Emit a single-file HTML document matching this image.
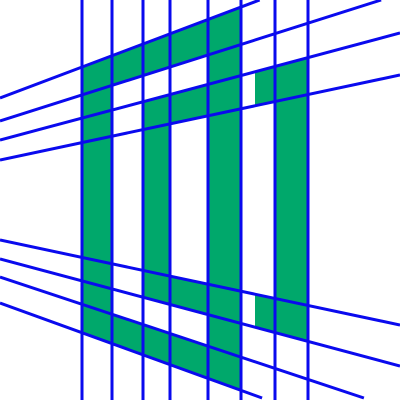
<!DOCTYPE html>
<html><head><meta charset="utf-8"><style>html,body{margin:0;padding:0;background:#fff;width:400px;height:400px;overflow:hidden}svg{display:block;overflow:hidden}</style></head>
<body>
<svg id="c" width="400" height="400" viewBox="0 0 400 400"></svg>
<script>
const verticals = [82, 112, 143, 170, 208, 241, 275, 308];
// slanted lines: [y at x=0, y at x=400]
const slanted = [[98, -53], [121, -6], [140, 33], [160, 75], [240, 325], [259, 366], [277, 410], [303, 448]];
// green pieces: [x0, x1, topLineIndex, bottomLineIndex]
const pieces = [
  [82, 112, 0, 7], [82, 241, 0, 1], [208, 241, 0, 7], [112, 241, 6, 7],
  [143, 170, 2, 5], [143, 208, 2, 3], [170, 208, 4, 5],
  [275, 308, 2, 5], [255, 275, 2, 3], [255, 275, 4, 5]
];
const svg = document.getElementById('c');
const NS = 'http://www.w3.org/2000/svg';
function yAt(i, x){ const l = slanted[i]; return l[0] + (l[1]-l[0])*x/400; }
function clampY(y){ return Math.max(0, Math.min(400, y)); }
pieces.forEach(p => {
  const pts = [[p[0], yAt(p[2],p[0])],[p[1], yAt(p[2],p[1])],[p[1], yAt(p[3],p[1])],[p[0], yAt(p[3],p[0])]];
  const g = document.createElementNS(NS, 'polygon');
  g.setAttribute('points', pts.map(q=>q[0]+','+clampY(q[1])).join(' '));
  g.setAttribute('fill', '#00a86b');
  
  
  svg.appendChild(g);
});
verticals.forEach(x => {
  const l = document.createElementNS(NS, 'line');
  l.setAttribute('x1', x); l.setAttribute('x2', x); l.setAttribute('y1', 0); l.setAttribute('y2', 400);
  l.setAttribute('stroke', '#0a0aee'); l.setAttribute('stroke-width', 3);
  
  
  svg.appendChild(l);
});
slanted.forEach(s => {
  let x1 = 0, y1 = s[0], x2 = 400, y2 = s[1];
  const m = (s[1]-s[0])/400;
  if (y2 < 0) { x2 = -s[0]/m; y2 = 0; }
  if (y2 > 398) { x2 = (398 - s[0])/m; y2 = 398; }
  const l = document.createElementNS(NS, 'line');
  l.setAttribute('x1', x1); l.setAttribute('y1', y1); l.setAttribute('x2', x2); l.setAttribute('y2', y2);
  l.setAttribute('stroke', '#0a0aee'); l.setAttribute('stroke-width', 3);
  
  
  svg.appendChild(l);
});
</script>
</body></html>
